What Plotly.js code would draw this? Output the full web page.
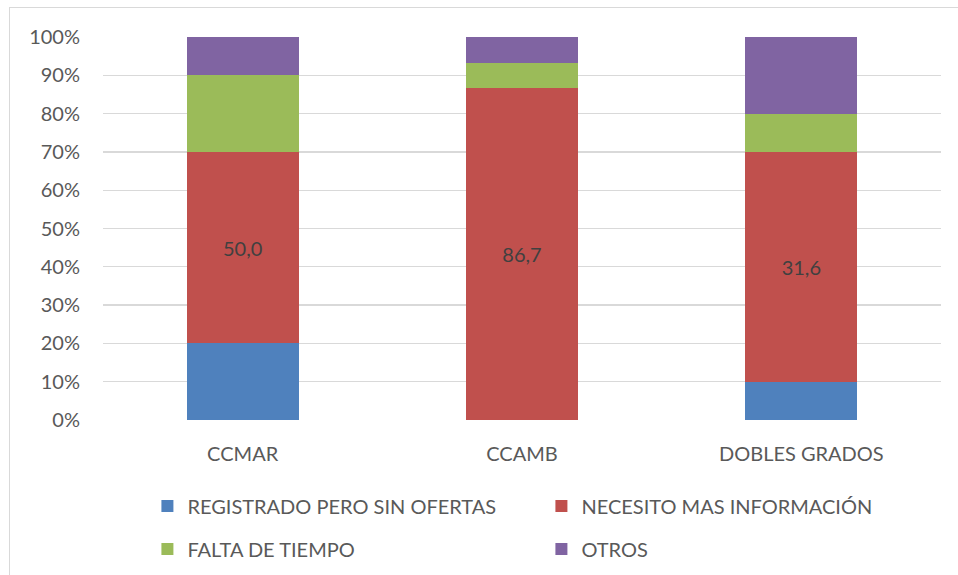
<!DOCTYPE html>
<html>
<head>
<meta charset="utf-8">
<script src="https://cdn.plot.ly/plotly-3.0.1.min.js"></script>
<style>
html,body{margin:0;padding:0;background:#fff;}
#wrap{position:relative;width:958px;height:575px;overflow:hidden;}
#chart{position:absolute;left:0;top:0;width:958px;height:575px;}
#frame{position:absolute;left:9px;top:7px;width:1000px;height:1000px;border:1.5px solid #d9d9d9;pointer-events:none;}
</style>
</head>
<body>
<div id="wrap"><div id="chart"></div><div id="frame"></div></div>
<script>
const categories = ['CCMAR', 'CCAMB', 'DOBLES GRADOS'];
const seriesNames = ['REGISTRADO PERO SIN OFERTAS', 'NECESITO MAS INFORMACIÓN', 'FALTA DE TIEMPO', 'OTROS'];
const registrado = [20, 0, 10];
const necesito = [50, 86.7, 60];
const falta = [20, 6.6, 10];
const otros = [10, 6.7, 20];
const necesitoLabels = [50.0, 86.7, 31.6];
const yTicks = [0, 10, 20, 30, 40, 50, 60, 70, 80, 90, 100];
const colors = ['#4F81BD', '#C0504D', '#9BBB59', '#8064A2'];

const FONT = 'Lato, "Open Sans", sans-serif';
const FS = 20;
const values = [registrado, necesito, falta, otros];
const legendIds = ['legend', 'legend', 'legend2', 'legend2'];

const traces = values.map((v, i) => {
  const t = {
    type: 'bar',
    name: seriesNames[i],
    x: categories,
    y: v,
    marker: {color: colors[i], line: {width: 0}},
    legend: legendIds[i],
    hoverinfo: 'x+y+name'
  };
  if (i === 1) {
    t.text = necesitoLabels.map(n => n.toFixed(1).replace('.', ','));
    t.textposition = 'inside';
    t.insidetextanchor = 'middle';
    t.textangle = 0;
    t.textfont = {family: FONT, size: FS, color: '#404040'};
  } else {
    t.textposition = 'none';
  }
  return t;
});

const legendCommon = {
  orientation: 'h',
  xanchor: 'left',
  yanchor: 'middle',
  x: 0.053,
  entrywidth: 349,
  entrywidthmode: 'pixels',
  font: {family: FONT, size: FS, color: '#595959'},
  bgcolor: 'rgba(0,0,0,0)',
  borderwidth: 0,
  traceorder: 'normal'
};

const layout = {
  width: 958,
  height: 575,
  margin: {l: 103, r: 17, t: 37, b: 155, autoexpand: false},
  paper_bgcolor: '#ffffff',
  plot_bgcolor: '#ffffff',
  barmode: 'stack',
  bargap: 0.6,
  showlegend: true,
  legend: Object.assign({}, legendCommon, {y: -0.2245}),
  legend2: Object.assign({}, legendCommon, {y: -0.3368}),
  font: {family: FONT, size: FS, color: '#595959'},
  xaxis: {
    type: 'category',
    showgrid: false,
    showline: false,
    zeroline: false,
    ticks: '',
    ticklabelstandoff: 20,
    tickfont: {family: FONT, size: FS, color: '#595959'}
  },
  yaxis: {
    range: [0, 100],
    tickvals: yTicks,
    ticktext: yTicks.map(t => t + '%'),
    showgrid: true,
    gridcolor: '#d9d9d9',
    gridwidth: 1.3,
    zeroline: false,
    showline: false,
    ticks: '',
    ticklabelstandoff: 22,
    tickfont: {family: FONT, size: FS, color: '#595959'}
  }
};

Plotly.newPlot('chart', traces, layout, {displayModeBar: false, staticPlot: true});
</script>
</body>
</html>
